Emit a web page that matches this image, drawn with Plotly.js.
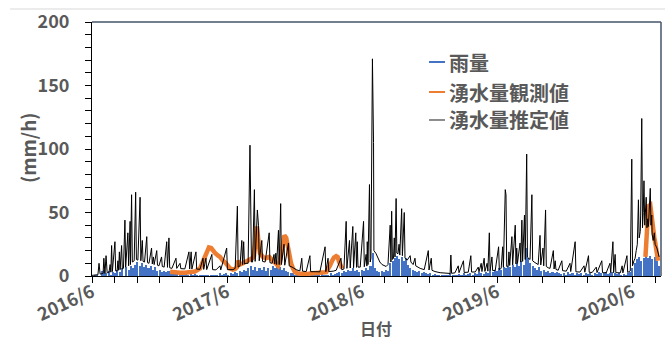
<!DOCTYPE html>
<html>
<head>
<meta charset="utf-8">
<script src="https://cdn.plot.ly/plotly-3.0.1.min.js"></script>
<style>
  html, body { margin: 0; padding: 0; background: #ffffff; }
  #chart { width: 665px; height: 340px; }
</style>
</head>
<body>
<div id="chart"></div>
<script>
// Day offsets are counted from this date.
const startDate = '2016-06-01';

// 雨量 (mm/h), one value every 6 days from startDate
const rainStepDays = 6;
const rainValues = [
  0, 0.5, 1, 0, 4, 5, 2, 4, 1, 3,
  2, 5, 3, 6, 0, 7, 5, 8, 6, 9,
  11, 8, 10, 7, 9, 6, 8, 5, 7, 4,
  5, 3, 4, 3, 4, 2, 3, 2, 3, 2,
  2, 1.5, 2, 1, 1.5, 1, 1.5, 1, 1, 0.5,
  1, 0.5, 1, 0.5, 1, 0.5, 1, 2, 1, 1.5,
  2, 1, 2, 1.5, 3, 2, 4, 3, 5, 4,
  6, 8, 5, 7, 4, 6, 5, 7, 4, 6,
  5, 8, 6, 9, 7, 5, 6, 4, 3, 2,
  2, 1, 1.5, 1, 1, 0.5, 1, 0.5, 1, 0.5,
  1, 0.5, 1, 1.5, 1, 0.5, 1, 2, 1, 1.5,
  2, 3, 2, 4, 3, 5, 4, 6, 4, 5,
  3, 5, 4, 6, 5, 8, 18, 6, 4, 3,
  4, 3, 5, 4, 10, 12, 14, 16, 13, 15,
  12, 14, 9, 6, 5, 4, 3, 4, 2, 3,
  2, 1.5, 2, 1, 1.5, 1, 1, 0.5, 1, 0.5,
  1, 2, 1, 0.5, 1, 1.5, 1, 2, 1, 1.5,
  2, 1, 2, 1.5, 3, 2, 1.5, 3, 2, 4,
  3, 5, 4, 6, 5, 7, 6, 8, 7, 9,
  7, 10, 8, 12, 9, 22, 14, 10, 8, 6,
  5, 7, 4, 5, 3, 4, 2, 3, 2, 3,
  2, 1.5, 2, 1, 3, 1.5, 2, 1, 2, 1.5,
  2, 1, 2.5, 1.5, 2, 1, 2, 1.5, 3, 2,
  2, 3, 1.5, 2, 3, 2, 1.5, 2, 1, 1.5,
  1, 2, 3, 6, 10, 13, 15, 12, 14, 16,
  14, 16, 13, 15, 12, 8
];

// 湧水量観測値 (day offset, value); null splits the two observation periods
const obsDays = [
  211, 224, 238, 251, 265, 278, 292, 300, 306, 311, 316, 322, 327, 333, 341, 346,
  354, 362, 373, 381, 387, 392, 395, 400, 408, 416, 424, 433, 438, 441, 443, 446,
  449, 454, 462, 470, 479, 487, 495, 503, 508, 514, 516, 520, 525, 527, 533, 538,
  543, 549, 557, 568, 579, 589, 600, 611, 622, 633, 638, 643, 649, 654, 660, 664,
  668, 672, 676,
  1000,
  1496, 1498, 1501, 1504, 1509, 1511, 1514, 1517, 1520, 1522, 1526, 1530
];
const obsValues = [
  3.4, 2.8, 2.5, 2.5, 3, 3.5, 6, 12, 17, 21, 22.5, 22, 20, 18, 16, 15,
  12, 10, 6, 5, 5.5, 7, 12, 9, 10, 11, 12, 14, 16, 25, 35, 39,
  30, 18, 15, 14, 15, 13, 10, 8, 12, 24, 30, 32, 30, 26, 18, 10,
  6, 3, 2, 1.5, 1.5, 2, 2.5, 2.5, 2.7, 3, 5, 8, 12, 14.5, 15.7, 15,
  11, 8, 6,
  null,
  15, 27, 45, 55, 56, 50, 40, 34, 30, 27, 20, 12
];

// 湧水量推定値 (day offset, value)
const estDays = [
  0, 11, 16, 19, 22, 30, 32, 35, 38, 41, 46, 49, 51, 53, 55, 62, 64, 68, 70, 72,
  74, 76, 80, 82, 85, 89, 91, 97, 99, 103, 104, 107, 109, 114, 118, 120, 124, 130, 132, 136,
  138, 142, 148, 150, 154, 161, 163, 166, 168, 175, 177, 181, 188, 190, 195, 202, 204, 208, 210, 216,
  227, 229, 238, 240, 251, 262, 264, 268, 270, 281, 283, 292, 300, 302, 308, 310, 324, 326, 335, 346,
  348, 364, 366, 373, 381, 387, 391, 393, 395, 400, 405, 407, 410, 412, 416, 422, 427, 429, 431, 434,
  439, 441, 447, 450, 452, 459, 461, 468, 479, 481, 487, 492, 494, 497, 499, 504, 506, 510, 512, 519,
  521, 531, 533, 541, 552, 562, 567, 569, 579, 589, 591, 603, 616, 630, 632, 638, 640, 652, 660, 673,
  675, 681, 687, 689, 696, 698, 705, 707, 713, 715, 717, 719, 725, 734, 736, 741, 743, 744, 746, 750,
  752, 754, 758, 761, 762, 768, 773, 778, 784, 789, 795, 800, 806, 808, 810, 812, 815, 817, 819, 822,
  824, 827, 830, 832, 837, 839, 844, 846, 852, 860, 862, 868, 873, 875, 881, 887, 898, 909, 911, 917,
  919, 927, 941, 954, 968, 970, 972, 981, 990, 992, 1004, 1006, 1017, 1024, 1026, 1036, 1044, 1046, 1052, 1054,
  1060, 1062, 1068, 1070, 1074, 1076, 1081, 1083, 1090, 1099, 1101, 1106, 1110, 1112, 1117, 1119, 1121, 1125, 1127, 1129,
  1135, 1137, 1144, 1146, 1148, 1150, 1157, 1159, 1162, 1164, 1169, 1171, 1173, 1175, 1177, 1181, 1184, 1189, 1191, 1195,
  1200, 1206, 1211, 1213, 1219, 1221, 1226, 1228, 1233, 1238, 1247, 1249, 1252, 1254, 1260, 1270, 1272, 1282, 1292, 1294,
  1306, 1308, 1319, 1330, 1332, 1342, 1344, 1352, 1363, 1365, 1378, 1380, 1390, 1400, 1402, 1408, 1410, 1414, 1416, 1428,
  1433, 1435, 1446, 1448, 1452, 1455, 1459, 1461, 1465, 1468, 1471, 1474, 1477, 1479, 1482, 1483, 1486, 1488, 1490, 1492,
  1494, 1496, 1498, 1500, 1502, 1504, 1506, 1509, 1511, 1513, 1514, 1517, 1520, 1522, 1527, 1530, 1533
];
const estValues = [
  0.5, 1, 1, 10, 1.5, 2, 14, 2, 16, 2.5, 3, 9, 3, 24, 3.5, 27, 4, 4, 12, 4.5,
  19, 5, 24, 5.5, 6, 44, 7, 34, 8, 43, 9, 64, 11, 12, 66, 13, 12.5, 62, 12, 28,
  11.5, 11, 31, 10.5, 10, 22, 9.5, 15, 9, 20, 8.5, 8, 15, 7.5, 7, 27, 6.8, 30, 6.5, 6,
  14, 6, 10, 5.8, 5.6, 19, 5.5, 19, 5.5, 19, 5.4, 5.3, 14, 5.2, 14, 5, 17, 5, 4.8, 8,
  4.8, 22, 5, 5, 5, 6, 39, 55, 7, 8, 28, 9, 27, 9.5, 10, 10, 103, 44, 11, 11,
  68, 11.5, 52, 40, 12, 28, 11.5, 11, 34, 10.5, 10, 17, 9.5, 18, 9, 36, 9, 57, 9, 25,
  8.5, 26, 8, 7, 5, 4, 14, 3.8, 3.5, 16, 3.4, 3.4, 3.3, 23, 3.4, 14, 3.5, 3.8, 4.5, 14,
  5, 5.5, 43, 6, 28, 6.3, 39, 6.5, 34, 6.8, 27, 7, 7, 43, 7.3, 17, 7.8, 27, 9, 72,
  11, 14, 171, 105, 20, 17.5, 14, 11, 9, 8, 7.5, 9, 40, 11, 51, 13, 14, 30, 15, 61,
  18, 17.5, 25, 16.5, 53, 16, 50, 14, 12.5, 16, 11, 9, 14, 8, 7, 6, 5, 20, 4.7, 14,
  4.5, 3.5, 2.6, 2.2, 2, 16.5, 2.1, 2.5, 8, 2.6, 12, 2.8, 3, 16, 3.1, 3.2, 7, 3.3, 10, 3.5,
  14, 3.6, 10, 3.8, 34, 4, 15, 4.2, 4.5, 23, 5, 6, 23, 7, 68, 64, 7.5, 8, 19, 8.3,
  31, 8.7, 40, 9.5, 22, 10, 26, 11, 44, 11.5, 48, 13, 65, 96, 14.7, 14, 13, 64, 12, 11,
  10, 9, 32, 8.7, 22, 8, 52, 7.5, 6.5, 6, 20, 5.5, 12, 5.2, 4.5, 12, 4.2, 3.8, 10, 3.5,
  27, 3.3, 3.1, 8, 3, 16, 2.9, 2.8, 7, 2.7, 12, 2.6, 2.6, 10, 2.6, 27, 2.6, 17, 2.6, 2.5,
  8, 2.5, 16, 2.8, 3.5, 4, 92, 8, 12, 14, 20, 25, 60, 30, 35, 48, 124, 38, 50, 75,
  40, 55, 62, 38, 45, 39, 50, 69, 40, 48, 33, 28, 34, 25, 22, 18, 15
];

const seriesNames = ['雨量', '湧水量観測値', '湧水量推定値'];
const seriesColors = ['#4472C4', '#ED7D31', '#000000'];
const xTitle = '日付';
const yTitle = '(mm/h)';

const DAY_MS = 86400000;
const originMs = Date.parse(startDate + 'T00:00:00Z');
function dayToDate(d) {
  return new Date(originMs + d * DAY_MS).toISOString().slice(0, 10);
}

const rainX = rainValues.map((_, i) => dayToDate(i * rainStepDays));
const obsX = obsDays.map(dayToDate);
const estX = estDays.map(dayToDate);

const textColor = '#595959';
const fontFamily = '"Noto Sans CJK JP", "Noto Sans", sans-serif';

const traces = [
  {
    type: 'bar', name: seriesNames[0],
    x: rainX, y: rainValues,
    width: 5.5 * DAY_MS, offset: 0,
    marker: { color: seriesColors[0], line: { width: 0 } },
    hoverinfo: 'skip'
  },
  {
    type: 'scatter', mode: 'lines', name: seriesNames[1],
    x: obsX, y: obsValues, connectgaps: false,
    line: { color: seriesColors[1], width: 4.5 },
    hoverinfo: 'skip'
  },
  {
    type: 'scatter', mode: 'lines', name: seriesNames[2],
    x: estX, y: estValues,
    line: { color: seriesColors[2], width: 1 },
    hoverinfo: 'skip'
  }
];

// hand-placed legend (short line samples + labels)
const legendY = [0.8425, 0.7244, 0.6142];
const legendLineWidths = [2, 2, 1.2];
const legendShapes = seriesNames.map((_, i) => ({
  type: 'line', xref: 'paper', yref: 'paper',
  x0: 0.5923, x1: 0.6204, y0: legendY[i], y1: legendY[i],
  line: { color: i === 2 ? '#404040' : seriesColors[i], width: legendLineWidths[i] }
}));
const legendText = seriesNames.map((name, i) => ({
  xref: 'paper', yref: 'paper', x: 0.6239, y: legendY[i],
  xanchor: 'left', yanchor: 'middle', showarrow: false, text: name,
  font: { family: fontFamily, size: 20, color: textColor, weight: 'bold' }
}));

const layout = {
  width: 665, height: 340,
  margin: { l: 92, r: 4, t: 22, b: 64, pad: 0 },
  paper_bgcolor: '#ffffff', plot_bgcolor: '#ffffff',
  showlegend: false,
  bargap: 0,
  font: { family: fontFamily, color: textColor },
  xaxis: {
    type: 'date',
    range: [startDate, '2020-08-17'],
    tick0: startDate, dtick: 'M12', tickformat: '%Y/%-m',
    tickangle: -25,
    ticks: 'outside', ticklen: 6, tickcolor: '#000', tickwidth: 1,
    minor: { tick0: startDate, dtick: 'M2', ticks: 'outside', ticklen: 6, tickcolor: '#000', showgrid: false },
    showline: true, linecolor: '#000', linewidth: 1,
    showgrid: false, zeroline: false,
    ticklabelstandoff: -8,
    tickfont: { family: fontFamily, size: 18, color: textColor, weight: 'bold' },
    automargin: false, fixedrange: true
  },
  yaxis: {
    range: [0, 200], tick0: 0, dtick: 50,
    ticks: 'outside', ticklen: 6, tickcolor: '#000', tickwidth: 1,
    minor: { dtick: 10, ticks: 'outside', ticklen: 6, tickcolor: '#000', showgrid: false },
    showline: true, linecolor: '#000', linewidth: 1,
    showgrid: false, zeroline: false,
    ticklabelstandoff: 12,
    tickfont: { family: fontFamily, size: 18, color: textColor, weight: 'bold' },
    automargin: false, fixedrange: true
  },
  shapes: [
    { type: 'line', xref: 'paper', yref: 'paper', x0: -0.144, x1: 1.01, y0: 1.0512, y1: 1.0512,
      line: { color: '#d9d9d9', width: 1 } },
    { type: 'line', xref: 'paper', yref: 'paper', x0: 0, x1: 1, y0: 1, y1: 1,
      line: { color: '#44546A', width: 1.5 } },
    { type: 'line', xref: 'paper', yref: 'paper', x0: 1, x1: 1, y0: 0, y1: 1,
      line: { color: '#44546A', width: 1.5 } }
  ].concat(legendShapes),
  annotations: [
    { xref: 'paper', yref: 'paper', x: -0.1125, y: 0.508, xanchor: 'center', yanchor: 'middle',
      textangle: -90, showarrow: false, text: yTitle,
      font: { family: fontFamily, size: 19, color: textColor, weight: 'bold' } },
    { xref: 'paper', yref: 'paper', x: 0.499, y: -0.15, xanchor: 'center', yanchor: 'top',
      showarrow: false, text: xTitle,
      font: { family: fontFamily, size: 16, color: textColor, weight: 'bold' } }
  ].concat(legendText)
};

Plotly.newPlot('chart', traces, layout, { staticPlot: true, displayModeBar: false });
</script>
</body>
</html>
